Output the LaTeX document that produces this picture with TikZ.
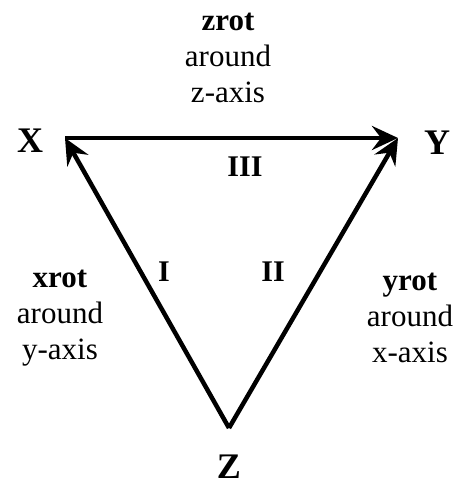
\documentclass[tikz,border=0pt]{standalone}
\usepackage{fontspec}
\setmainfont{Liberation Serif}
\usetikzlibrary{arrows.meta}
\tikzset{
  axis/.style={line width=4.5pt,-{Stealth[length=26pt,width=24pt,inset=9pt]}},
  corner/.style={inner sep=0pt,font=\fontsize{36}{40}\selectfont\bfseries},
  note/.style={align=center,font=\fontsize{31}{36}\selectfont},
  num/.style={font=\fontsize{30}{34}\selectfont\bfseries}
}
\begin{document}
\begin{tikzpicture}[x=1pt,y=1pt]
\useasboundingbox (0,0) rectangle (457,486);
\coordinate (cx) at (65,348);
\coordinate (cy) at (398,348);
\coordinate (cz) at (229,58);
\draw[axis] (cx) -- (cy);
\draw[axis] (cz) -- (cx);
\draw[axis] (cz) -- (cy);
\node[corner] (lx) at (30,345) {X};
\node[corner] (ly) at (437,343) {Y};
\node[corner] (lz) at (229,19) {Z};
\node[num] (n3) at (245,319) {III};
\node[num] (n1) at (164,214) {I};
\node[num] (n2) at (273,214) {II};
\node[note] (rz) at (228,428) {\textbf{zrot}\\around\\z-axis};
\node[note] (rx) at (60,168) {\textbf{xrot}\\around\\y-axis};
\node[note] (ry) at (410,168) {\textbf{yrot}\\around\\x-axis};
\end{tikzpicture}
\end{document}
